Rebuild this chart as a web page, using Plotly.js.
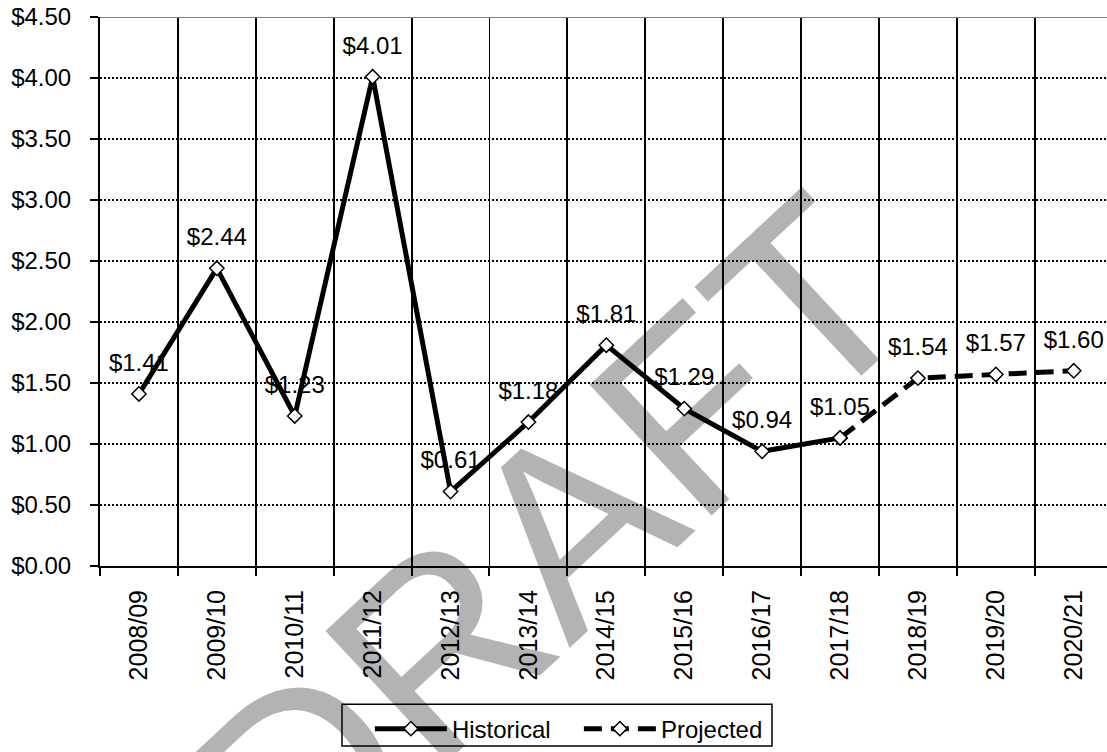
<!DOCTYPE html>
<html>
<head>
<meta charset="utf-8">
<script src="https://cdn.plot.ly/plotly-3.0.1.min.js"></script>
<style>
html, body { margin: 0; padding: 0; background: #fff; overflow: hidden; }
#chart { width: 1107px; height: 752px; }
</style>
</head>
<body>
<div id="chart"></div>
<script>
// ---- data ----
const categories = ["2008/09","2009/10","2010/11","2011/12","2012/13","2013/14","2014/15","2015/16","2016/17","2017/18","2018/19","2019/20","2020/21"];
const historicalYears = ["2008/09","2009/10","2010/11","2011/12","2012/13","2013/14","2014/15","2015/16","2016/17","2017/18"];
const historicalValues = [1.41, 2.44, 1.23, 4.01, 0.61, 1.18, 1.81, 1.29, 0.94, 1.05];
const projectedYears = ["2017/18","2018/19","2019/20","2020/21"];
const projectedValues = [1.05, 1.54, 1.57, 1.60];
const labelYears = categories;
const labelValues = [1.41, 2.44, 1.23, 4.01, 0.61, 1.18, 1.81, 1.29, 0.94, 1.05, 1.54, 1.57, 1.60];
const watermarkText = "DRAFT";

const FONT = "Liberation Sans, Arial, sans-serif";

const traces = [
  {
    x: labelYears, y: labelValues,
    mode: "markers+text",
    text: labelValues.map(v => "$" + v.toFixed(2)),
    textposition: "top center",
    textfont: {family: FONT, size: 24, color: "#000"},
    marker: {size: 26, opacity: 0},
    showlegend: false, hoverinfo: "skip"
  },
  {
    x: historicalYears, y: historicalValues,
    name: "Historical",
    mode: "lines+markers",
    line: {color: "#000", width: 5},
    marker: {symbol: "diamond", size: 11, color: "#fff", line: {color: "#000", width: 1.5}}
  },
  {
    x: projectedYears, y: projectedValues,
    name: "Projected",
    mode: "lines+markers",
    line: {color: "#000", width: 5, dash: "18px,9px"},
    marker: {symbol: "diamond", size: 11, color: "#fff", line: {color: "#000", width: 1.5}}
  }
];

const layout = {
  width: 1107, height: 752,
  margin: {l: 100, r: 0, t: 17, b: 183, pad: 0},
  paper_bgcolor: "#fff", plot_bgcolor: "#fff",
  font: {family: FONT, size: 24, color: "#000"},
  xaxis: {
    type: "category",
    categoryorder: "array", categoryarray: categories,
    range: [-0.5, 12.427],
    tickson: "boundaries",
    showgrid: true, gridcolor: "#000", gridwidth: 1.8,
    showline: true, linecolor: "#000", linewidth: 2,
    ticks: "outside", ticklen: 8, tickwidth: 2, tickcolor: "#000",
    tickangle: -90,
    ticklabelstandoff: 12,
    tickfont: {family: FONT, size: 25, color: "#000"},
    fixedrange: true
  },
  yaxis: {
    range: [0, 4.5], dtick: 0.5, tick0: 0,
    tickformat: "$.2f",
    showgrid: true, gridcolor: "#000", gridwidth: 1.2, griddash: "2px,2px",
    zeroline: false,
    showline: true, linecolor: "#000", linewidth: 2,
    ticks: "outside", ticklen: 8, tickwidth: 2, tickcolor: "#000",
    ticklabelstandoff: 14,
    tickfont: {family: FONT, size: 24, color: "#000"},
    fixedrange: true
  },
  showlegend: true,
  legend: {
    orientation: "h",
    x: 0.268, xanchor: "left", xref: "paper",
    y: -0.256, yanchor: "top", yref: "paper",
    borderwidth: 0, bgcolor: "rgba(0,0,0,0)",
    font: {family: FONT, size: 24, color: "#000"},
    itemwidth: 72,
    entrywidth: 122
  },
  shapes: [
    {
      type: "rect", xref: "paper", yref: "paper",
      x0: 0.375, x1: 0.485, y0: 0.040, y1: 0.110,
      line: {width: 0}, fillcolor: "rgba(0,0,0,0)",
      layer: "below",
      label: {
        text: watermarkText,
        textposition: "middle center",
        textangle: -43,
        font: {family: FONT, size: 260, color: "#b3b3b3"}
      }
    },
    {
      type: "line", xref: "paper", yref: "y",
      x0: 0, x1: 1, y0: 4.5, y1: 4.5,
      line: {color: "#808080", width: 2},
      layer: "above"
    },
    {
      type: "rect", xref: "paper", yref: "paper",
      x0: 0.2403, x1: 0.6673, y0: -0.3279, y1: -0.2518,
      line: {color: "#000", width: 1.5}, fillcolor: "rgba(0,0,0,0)",
      layer: "above"
    }
  ]
};

Plotly.newPlot("chart", traces, layout, {displayModeBar: false, staticPlot: true});
</script>
</body>
</html>
